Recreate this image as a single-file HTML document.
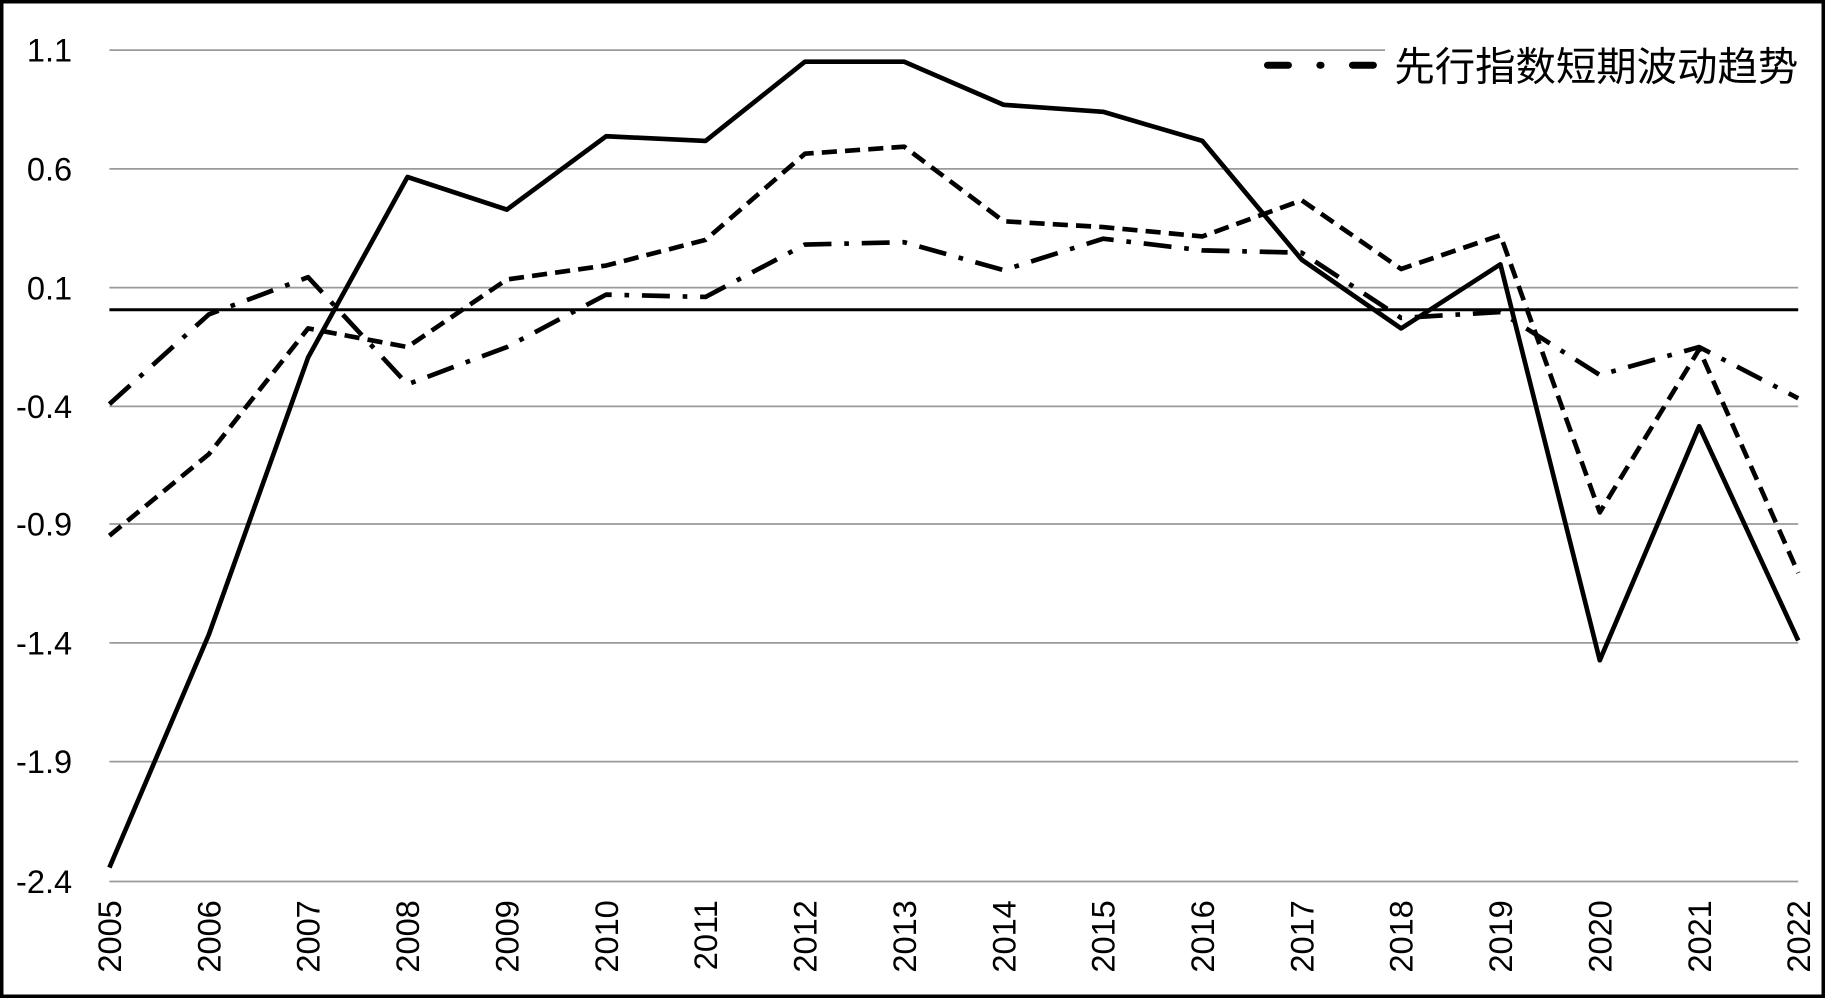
<!DOCTYPE html>
<html><head><meta charset="utf-8"><style>
html,body{margin:0;padding:0;background:#fff;}
svg{display:block;}
text{font-family:"Liberation Sans","Noto Sans CJK SC",sans-serif;fill:#000;}
</style></head><body>
<svg width="1825" height="998" viewBox="0 0 1568 857" preserveAspectRatio="none" xmlns="http://www.w3.org/2000/svg">
<rect x="1.5" y="1.5" width="1565" height="854" fill="#fff" stroke="#000" stroke-width="3"/>
<g stroke="#9a9a9a" stroke-width="1.5">
<line x1="94" x2="1545" y1="43" y2="43"/><line x1="94" x2="1545" y1="145" y2="145"/>
<line x1="94" x2="1545" y1="247" y2="247"/><line x1="94" x2="1545" y1="349" y2="349"/>
<line x1="94" x2="1545" y1="450" y2="450"/><line x1="94" x2="1545" y1="552" y2="552"/>
<line x1="94" x2="1545" y1="654" y2="654"/><line x1="94" x2="1545" y1="757" y2="757"/>
</g>
<g font-size="28" text-anchor="end">
<text x="62" y="53">1.1</text><text x="62" y="155">0.6</text><text x="62" y="257">0.1</text>
<text x="62" y="359">-0.4</text><text x="62" y="460">-0.9</text><text x="62" y="562">-1.4</text>
<text x="62" y="664">-1.9</text><text x="62" y="767">-2.4</text>
</g>
<line x1="94" x2="1545" y1="266" y2="266" stroke="#000" stroke-width="2.5"/>
<g font-size="28" text-anchor="end">
<text transform="translate(104,773) rotate(-90)">2005</text>
<text transform="translate(189.4,773) rotate(-90)">2006</text>
<text transform="translate(274.7,773) rotate(-90)">2007</text>
<text transform="translate(360.1,773) rotate(-90)">2008</text>
<text transform="translate(445.5,773) rotate(-90)">2009</text>
<text transform="translate(530.8,773) rotate(-90)">2010</text>
<text transform="translate(616.2,773) rotate(-90)">2011</text>
<text transform="translate(701.6,773) rotate(-90)">2012</text>
<text transform="translate(786.9,773) rotate(-90)">2013</text>
<text transform="translate(872.3,773) rotate(-90)">2014</text>
<text transform="translate(957.7,773) rotate(-90)">2015</text>
<text transform="translate(1043,773) rotate(-90)">2016</text>
<text transform="translate(1128.4,773) rotate(-90)">2017</text>
<text transform="translate(1213.8,773) rotate(-90)">2018</text>
<text transform="translate(1299.1,773) rotate(-90)">2019</text>
<text transform="translate(1384.5,773) rotate(-90)">2020</text>
<text transform="translate(1469.9,773) rotate(-90)">2021</text>
<text transform="translate(1555,773) rotate(-90)">2022</text>
</g>
<g fill="none" stroke="#000" stroke-width="4" stroke-linejoin="round">
<polyline points="94,745 179.4,545 264.7,307 350.1,152 435.5,180 520.8,117 606.2,121 691.6,53 776.9,53 862.3,90 947.7,96 1033,121 1118.4,223 1203.8,282 1289.1,227 1374.5,567 1459.9,366 1545,550"/>
<polyline stroke-dasharray="13,7" points="94,460 179.4,390 264.7,282 350.1,298 435.5,240 520.8,228 606.2,206 691.6,132 776.9,126 862.3,190 947.7,195 1033,203 1118.4,172 1203.8,231 1289.1,202 1374.5,440 1459.9,300 1545,492"/>
<polyline stroke-dasharray="24,11,4,11" points="94,347 179.4,270 264.7,238 350.1,330 435.5,298 520.8,253 606.2,255 691.6,210 776.9,208 862.3,232 947.7,205 1033,215 1118.4,217 1203.8,273 1289.1,268 1374.5,322 1459.9,298 1545,342"/>
</g>
<rect x="1190" y="30" width="357" height="50" fill="#fff"/>
<g stroke="#000" stroke-width="6" stroke-linecap="round">
<line x1="1089" x2="1107" y1="56" y2="56"/>
<line x1="1134" x2="1135" y1="56" y2="56"/>
<line x1="1162" x2="1180" y1="56" y2="56"/>
</g>
<text x="1198" y="69" font-size="34" textLength="347" lengthAdjust="spacingAndGlyphs">先行指数短期波动趋势</text>
</svg>
</body></html>
